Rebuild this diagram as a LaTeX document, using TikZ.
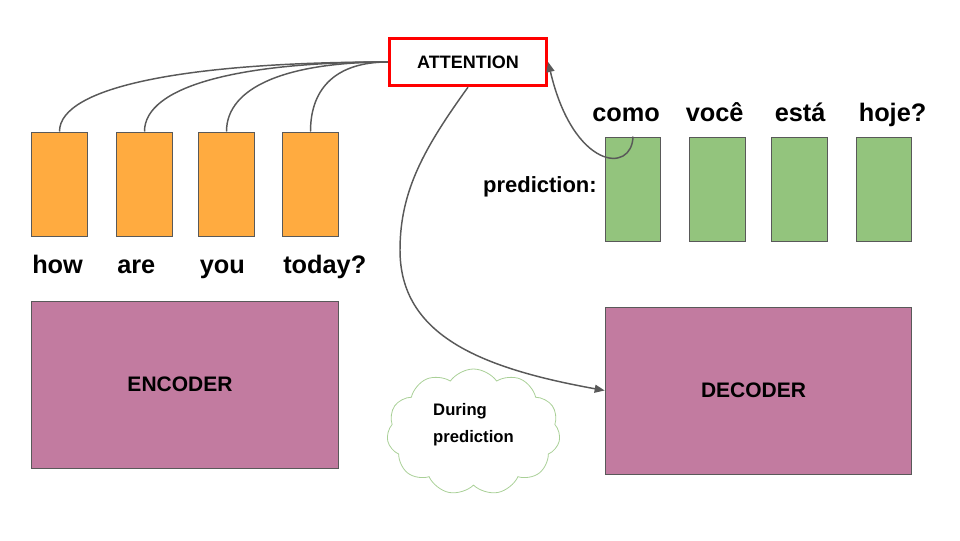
\documentclass[tikz,border=0pt]{standalone}
\usepackage{fontspec}
\setmainfont{Liberation Sans}
\usetikzlibrary{arrows.meta, shapes.symbols}

\definecolor{encorange}{HTML}{FFAB40}
\definecolor{decgreen}{HTML}{93C47D}
\definecolor{blockpurple}{HTML}{C27BA0}
\definecolor{edgegray}{HTML}{595959}

\begin{document}
\begin{tikzpicture}[
        x=0.75pt, y=0.75pt,
        token/.style={draw=edgegray, line width=0.75pt, inner sep=0pt,
            minimum width=41.5pt, minimum height=78pt},
        block/.style={draw=edgegray, line width=0.75pt, fill=blockpurple, inner sep=0pt,
            minimum width=230pt, minimum height=125.25pt,
            font=\fontsize{15.75}{18}\selectfont\bfseries},
        word/.style={inner sep=0pt, anchor=base west, font=\fontsize{19}{22}\selectfont\bfseries},
        link/.style={draw=edgegray, line width=1.1pt},
        arrowlink/.style={link, -{Triangle[length=7.5pt, width=6pt]}}
    ]
        \useasboundingbox (0,0) rectangle (960,-540);

        % Encoder side
        \node[token, fill=encorange] (o1) at (59.5,-184) {};
        \node[token, fill=encorange] (o2) at (144.5,-184) {};
        \node[token, fill=encorange] (o3) at (226.5,-184) {};
        \node[token, fill=encorange] (o4) at (310.5,-184) {};
        \node[word] (lhow) at (32,-273) {how};
        \node[word] (lare) at (117,-273) {are};
        \node[word] (lyou) at (199.5,-273) {you};
        \node[word] (ltoday) at (283,-273) {today?};
        \node[block] (enc) at (185,-384.5) {\kern-7.5pt ENCODER};

        % Attention
        \node[draw=red, line width=2.25pt, fill=white, inner sep=0pt,
            minimum width=118pt, minimum height=35.5pt,
            font=\fontsize{13.5}{16}\selectfont\bfseries] (att) at (468,-62) {ATTENTION};

        % Decoder side
        \node[token, fill=decgreen] (g1) at (633,-189) {};
        \node[token, fill=decgreen] (g2) at (717.5,-189) {};
        \node[token, fill=decgreen] (g3) at (799.5,-189) {};
        \node[token, fill=decgreen] (g4) at (884,-189) {};
        \node[word] (lcomo) at (592,-121) {como};
        \node[word] (lvoce) at (685.5,-121) {você};
        \node[word] (lesta) at (774.5,-121) {está};
        \node[word] (lhoje) at (858.5,-121) {hoje?};
        \node[word, font=\fontsize{16.5}{20}\selectfont\bfseries, anchor=base east]
            (lpred) at (597,-192) {prediction:};
        \node[block] (dec) at (758.5,-390.5) {\kern-7.5pt DECODER};

        % Cloud note
        \node[cloud, cloud puffs=11, cloud puff arc=110, draw=decgreen!80, line width=0.6pt,
            minimum width=130pt, minimum height=93pt, inner sep=0pt, align=left,
            font=\fontsize{12.5}{20}\selectfont\bfseries] (note) at (473.5,-432)
            {During\\prediction\\[-6pt]};

        % Attention links to encoder tokens
        \draw[link] (o1.north) .. controls +(0,45) and +(-200,0) .. (att.west);
        \draw[link] (o2.north) .. controls +(0,45) and +(-150,0) .. (att.west);
        \draw[link] (o3.north) .. controls +(0,45) and +(-100,0) .. (att.west);
        \draw[link] (o4.north) .. controls +(0,45) and +(-50,0) .. (att.west);

        % Prediction fed back, attention to decoder
        \coordinate (bend) at (400,-250);
        \draw[arrowlink] (g1.north) .. controls +(-1,-38) and +(25,-107) .. (att.east);
        \draw[arrowlink] (att.south) .. controls (425,-147) and (400,-190) .. (bend)
            .. controls (400,-335) and (480,-368) .. (dec.west);
    \end{tikzpicture}
\end{document}
